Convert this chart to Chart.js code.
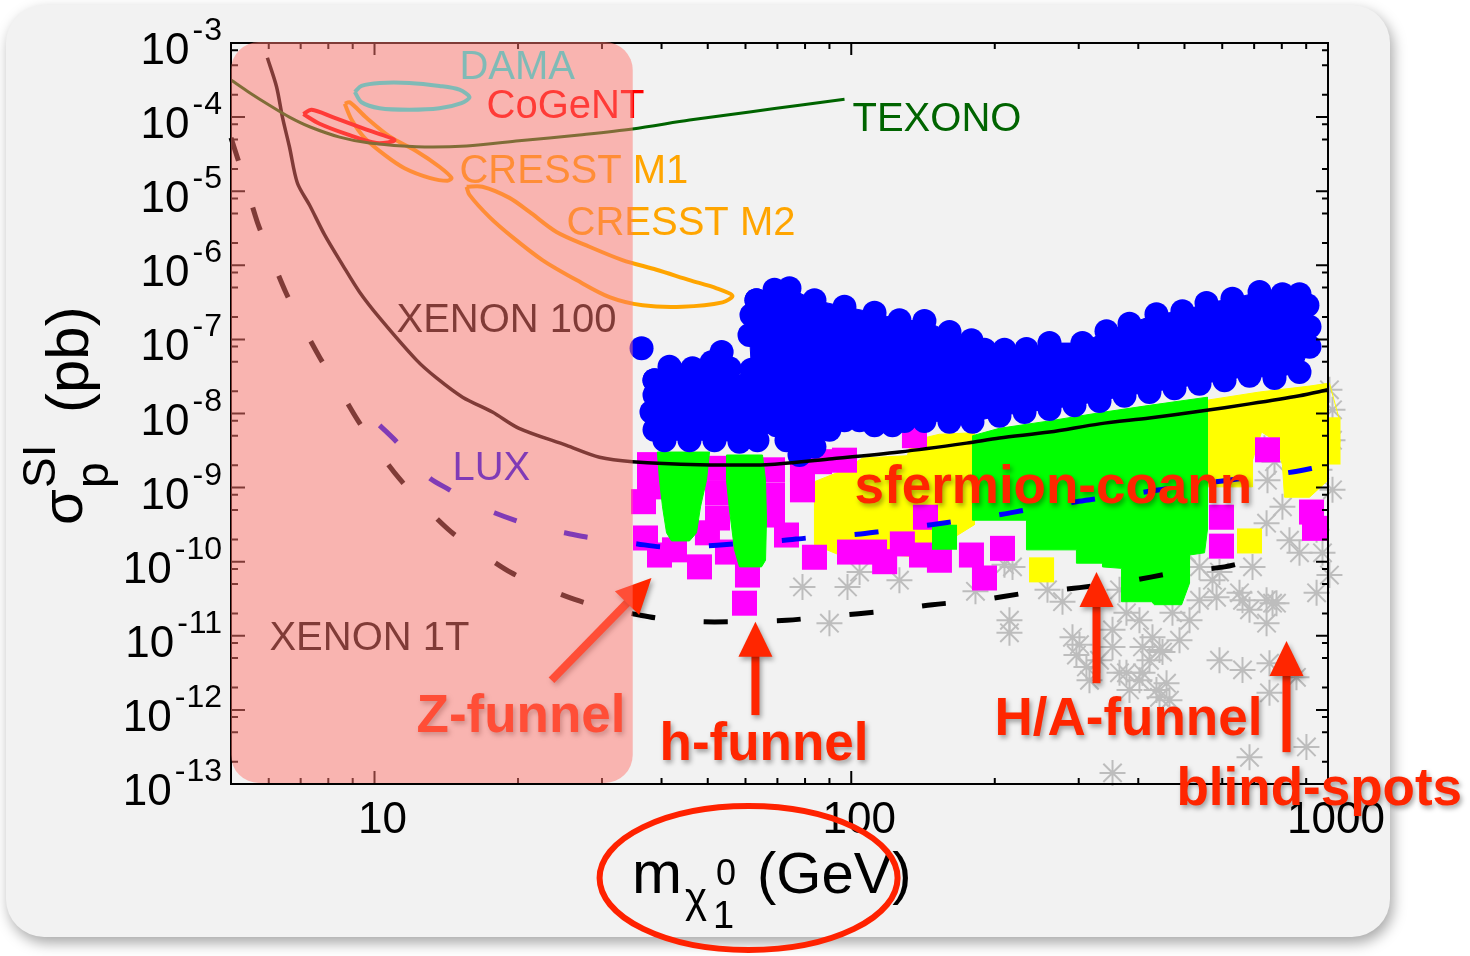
<!DOCTYPE html>
<html><head><meta charset="utf-8">
<script src="https://cdn.jsdelivr.net/npm/chart.js@4.4.1/dist/chart.umd.min.js"></script>
<style>html,body{margin:0;padding:0;background:#fff;}canvas{display:block;}</style>
</head><body>
<canvas id="c" width="1470" height="956" style="width:1470px;height:956px"></canvas>
<script>
// ---- axes ----
const massRange = [5, 1000];            // GeV
const sigmaExpRange = [-13, -3];        // log10(sigma / pb)
const yTickExps = [-3,-4,-5,-6,-7,-8,-9,-10,-11,-12,-13];
const xTickValues = [10, 100, 1000];
const xTickLabels = ['10', '100', '1000'];
const zoneMass = [5, 34.8];             // shaded low-mass zone
// ---- limit curves: [mass GeV, log10 sigma] ----
const texono = [[5.0,-3.50],[5.47,-3.67],[6.02,-3.84],[6.63,-4.00],[7.31,-4.13],[8.45,-4.27],[9.76,-4.35],[12.25,-4.40],[15.6,-4.39],[20.1,-4.32],[26.9,-4.24],[34.75,-4.16],[45.8,-4.04],[61.2,-3.93],[77.9,-3.84],[96.8,-3.76]];
const xenon100 = [[5.96,-3.20],[6.23,-3.59],[6.41,-4.00],[6.63,-4.40],[6.89,-4.89],[7.31,-5.19],[7.86,-5.59],[8.58,-6.00],[9.30,-6.36],[10.25,-6.71],[12.25,-7.28],[13.49,-7.52],[15.30,-7.78],[17.67,-7.98],[20.1,-8.20],[25.28,-8.43],[29.64,-8.59],[34.75,-8.65],[48.05,-8.69],[66.4,-8.69],[91.3,-8.61],[126.2,-8.52],[174.5,-8.40],[204.6,-8.33],[260.5,-8.25],[331.7,-8.14],[422.2,-8.06],[537.6,-7.97],[684.5,-7.87],[871.4,-7.76],[1000,-7.68]];
const xenon1t = [[5.0,-4.28],[5.34,-4.85],[5.68,-5.42],[6.08,-5.90],[6.51,-6.36],[6.96,-6.74],[7.67,-7.24],[8.45,-7.68],[9.22,-8.09],[10.25,-8.53],[11.28,-8.88],[12.73,-9.25],[14.50,-9.60],[16.61,-9.87],[19.37,-10.15],[22.72,-10.35],[26.9,-10.53],[31.11,-10.64],[35.96,-10.72],[40.18,-10.77],[48.05,-10.81],[57.45,-10.81],[73.14,-10.79],[92.2,-10.73],[116.3,-10.67],[148.0,-10.58],[185.7,-10.52],[234.3,-10.42],[301.1,-10.35],[383.4,-10.26],[476.4,-10.15],[606.6,-10.07],[684.5,-9.99]];
const lux = [[10.25,-8.16],[11.12,-8.38],[12.13,-8.65],[13.04,-8.87],[14.36,-9.03],[15.98,-9.21],[17.84,-9.34],[19.86,-9.45],[22.18,-9.55],[25.03,-9.61],[27.97,-9.67],[35.61,-9.76],[39.99,-9.80],[48.05,-9.79],[56.9,-9.76],[72.44,-9.71],[80.93,-9.68],[103.0,-9.63],[115.7,-9.59],[147.3,-9.50],[163.0,-9.46],[207.6,-9.36],[233.1,-9.30],[296.7,-9.19],[328.5,-9.15],[422.2,-9.05],[600.8,-8.91],[842.4,-8.79],[959.8,-8.72]];
const dama = [[9.09,-3.66],[9.39,-3.58],[10.25,-3.54],[11.84,-3.54],[13.68,-3.58],[15.07,-3.63],[15.82,-3.73],[15.22,-3.81],[13.68,-3.88],[11.84,-3.90],[10.25,-3.88],[9.39,-3.80],[9.09,-3.66]];
const cogent = [[7.09,-3.96],[7.38,-3.90],[8.17,-4.00],[9.62,-4.17],[11.01,-4.31],[10.1,-4.35],[8.74,-4.23],[7.67,-4.09],[7.09,-3.96]];
const cresstM1 = [[8.66,-3.82],[8.87,-3.80],[9.62,-4.01],[10.75,-4.26],[12.25,-4.46],[13.68,-4.67],[14.50,-4.82],[14.22,-4.86],[13.04,-4.82],[11.56,-4.69],[10.50,-4.51],[9.53,-4.28],[8.96,-4.04],[8.66,-3.82]];
const cresstM2 = [[15.6,-4.94],[16.84,-4.94],[19.19,-5.09],[21.14,-5.28],[24.08,-5.55],[28.24,-5.75],[33.12,-5.93],[39.04,-6.06],[45.78,-6.20],[52.17,-6.31],[56.33,-6.41],[53.69,-6.50],[44.24,-6.56],[36.5,-6.54],[31.11,-6.43],[26.53,-6.20],[22.50,-5.93],[19.47,-5.62],[17.43,-5.35],[15.82,-5.05],[15.6,-4.94]];
// ---- model points: [mass GeV, log10 sigma] ----
const blueMain = [[63.27,-6.47],[69.02,-6.33],[74.2,-6.31],[83.72,-6.47],[96.78,-6.56],[111.9,-6.64],[126.2,-6.74],[142.4,-6.75],[160.7,-6.90],[178.7,-7.01],[190.3,-7.14],[209.6,-7.14],[233.1,-7.13],[260.5,-7.05],[305.4,-7.05],[343.1,-6.89],[383.4,-6.79],[436.7,-6.66],[495.0,-6.62],[556.1,-6.51],[630.3,-6.45],[718.5,-6.36],[802.4,-6.39],[871.4,-6.39],[905.4,-6.54],[914.6,-6.83],[914.6,-7.10],[871.4,-7.44],[772.3,-7.52],[684.5,-7.49],[606.6,-7.55],[537.6,-7.60],[476.4,-7.66],[422.2,-7.71],[374.2,-7.76],[331.7,-7.83],[293.9,-7.89],[260.5,-7.94],[230.9,-7.98],[204.6,-8.03],[179.6,-8.11],[160.7,-8.11],[142.4,-8.10],[129.3,-8.10],[122.0,-8.16],[111.9,-8.16],[104.1,-8.09],[96.78,-8.09],[90.0,-8.22],[83.72,-8.45],[77.88,-8.56],[73.14,-8.36],[69.69,-8.16],[65.76,-7.98],[61.76,-7.82],[61.76,-7.41],[61.17,-6.94],[61.76,-6.67],[63.27,-6.47]];
const blueLeft = [[38.66,-7.55],[41.97,-7.41],[46.45,-7.39],[50.92,-7.31],[55.54,-7.39],[59.71,-7.62],[61.76,-7.82],[64.2,-8.16],[63.56,-8.36],[58.28,-8.38],[51.65,-8.36],[45.78,-8.36],[40.57,-8.36],[38.66,-8.22],[38.1,-7.98],[38.66,-7.75],[38.66,-7.55]];
const blueExtra = [[36.32,-7.12],[53.47,-7.17],[41.56,-7.37]];
const greenLobeZ = [[39.2,-8.52],[50.43,-8.52],[49.7,-8.90],[48.28,-9.26],[47.36,-9.61],[45.78,-9.72],[41.97,-9.72],[40.98,-9.61],[40.19,-9.26],[39.61,-8.90],[39.2,-8.52]];
const greenLobeH = [[54.74,-8.56],[65.13,-8.56],[66.1,-8.90],[66.4,-9.44],[66.1,-9.98],[64.82,-10.07],[58.28,-10.07],[56.9,-9.84],[55.54,-9.30],[54.74,-8.90],[54.74,-8.56]];
const greenCoann = [[179.6,-8.30],[204.6,-8.20],[260.5,-8.10],[331.7,-7.99],[422.2,-7.89],[558.6,-7.78],[558.6,-9.57],[550.8,-9.88],[512.3,-9.91],[512.3,-10.29],[493.1,-10.58],[432.5,-10.58],[426.3,-10.54],[368.8,-10.54],[368.8,-10.09],[336.5,-10.07],[336.5,-10.02],[296.7,-10.02],[296.7,-9.84],[233.1,-9.84],[233.1,-9.44],[179.6,-9.44],[179.6,-8.30]];
const greenSquares = [[156.9,-9.67]];
const yellowLeft = [[83.72,-8.92],[96.78,-8.76],[105.6,-8.60],[131.1,-8.57],[133.7,-8.37],[153.1,-8.28],[181.3,-8.26],[181.3,-9.50],[160.7,-9.71],[139.0,-9.94],[109.2,-9.88],[94.47,-9.91],[83.72,-9.77],[83.72,-8.92]];
const yellowRight = [[558.6,-7.82],[718.5,-7.71],[914.6,-7.63],[1007,-7.59],[1057,-8.09],[1057,-8.63],[1000,-8.65],[1000,-8.90],[914.6,-9.13],[810.6,-9.13],[802.4,-8.69],[772.3,-8.36],[725.4,-8.25],[694.5,-8.63],[694.5,-8.99],[558.6,-8.99],[558.6,-7.82]];
const yellowSquares = [[250.7,-10.11],[684.5,-9.72],[1000,-8.22],[1000,-8.52]];
const magentaSquares = [[36.66,-9.19],[37.02,-9.68],[39.61,-9.91],[42.58,-9.84],[48.05,-10.07],[49.93,-9.61],[37.74,-8.69],[37.74,-8.99],[52.41,-8.74],[52.41,-9.07],[52.41,-9.41],[55.0,-9.87],[60.58,-10.18],[59.71,-10.56],[68.36,-8.76],[68.36,-9.10],[68.36,-9.37],[73.14,-9.64],[79.01,-8.76],[79.01,-9.03],[83.72,-9.94],[96.78,-8.63],[99.15,-9.87],[111.9,-9.87],[117.5,-10.00],[128.0,-9.76],[140.4,-9.91],[153.1,-9.98],[143.1,-9.40],[178.7,-9.91],[190.3,-10.22],[207.6,-9.82],[85.77,-8.65],[135.7,-8.30],[923.5,-9.33],[936.9,-9.55],[597.8,-9.40],[597.8,-9.79],[746.6,-8.49]];
const greyStars = [[79.01,-10.34],[98.2,-10.34],[104.1,-10.14],[126.2,-10.25],[90.0,-10.83],[182.2,-10.40],[209.6,-10.04],[214.7,-10.79],[214.7,-10.96],[217.9,-10.07],[277.4,-10.54],[291.1,-11.02],[301.1,-11.12],[311.4,-11.42],[316.0,-11.60],[296.7,-11.26],[353.2,-10.92],[377.8,-10.69],[402.3,-10.79],[428.4,-11.02],[471.8,-10.69],[443.1,-11.19],[408.2,-11.50],[436.7,-11.73],[465.0,-11.87],[377.8,-11.50],[353.2,-11.15],[408.2,-11.15],[449.6,-11.22],[365.3,-11.50],[402.3,-11.60],[443.1,-11.83],[458.5,-11.64],[422.2,-11.33],[331.7,-11.33],[383.4,-11.73],[504.8,-9.88],[537.6,-10.07],[572.4,-10.25],[583.8,-10.48],[652.2,-10.42],[743.3,-10.52],[779.8,-10.56],[743.3,-10.83],[684.5,-10.65],[512.3,-10.79],[592.1,-11.33],[661.7,-11.46],[753.8,-11.37],[858.8,-11.56],[753.8,-11.77],[684.5,-12.64],[901.1,-12.50],[353.2,-12.85],[973.8,-9.88],[946.3,-10.42],[1007,-10.18],[946.3,-9.57],[1007,-7.68],[1022,-7.95],[1022,-8.36],[959.8,-8.76],[1022,-9.03],[743.3,-9.48],[802.4,-9.26],[694.5,-10.07],[592.1,-10.14],[871.4,-9.88],[661.7,-10.52],[765.0,-10.56],[735.8,-8.47],[772.3,-8.65],[746.6,-8.90],[871.4,-8.63],[830.2,-9.71],[258.0,-10.38],[365.3,-10.38],[488.1,-11.06],[537.6,-10.52]];
// ---- text annotations (anchor in data units) ----
const curveLabels = [
  {text:'DAMA', m:15.07, e:-3.49, color:'#00ffff'},
  {text:'CoGeNT', m:17.18, e:-4.01, color:'#ff0000'},
  {text:'CRESST M1', m:15.07, e:-4.89, color:'#ffa500'},
  {text:'CRESST M2', m:25.28, e:-5.59, color:'#ffa500'},
  {text:'TEXONO', m:100.6, e:-4.19, color:'#006400'},
  {text:'XENON 100', m:11.12, e:-6.90, color:'#000000'},
  {text:'LUX', m:14.57, e:-8.90, color:'#0000ff'},
  {text:'XENON 1T', m:6.02, e:-11.19, color:'#000000'}
];
const regionLabels = [
  {text:'sfermion-coann', m:101.6, e:-9.21},
  {text:'Z-funnel', m:12.25, e:-12.30},
  {text:'h-funnel', m:39.61, e:-12.68},
  {text:'H/A-funnel', m:199.7, e:-12.34},
  {text:'blind-spots', m:481.0, e:-13.28}
];
const arrows = [
  {from:[23.51,-11.60], to:[38.1,-10.22]},
  {from:[62.95,-12.07], to:[62.95,-10.81]},
  {from:[326.9,-11.64], to:[326.9,-10.14]},
  {from:[818.4,-12.57], to:[818.4,-11.07]}
];

const FF = '"Liberation Sans", Arial, Helvetica, sans-serif';
const toPts = a => a.map(([m, e]) => ({x: m, y: Math.pow(10, e)}));

function curve(label, arr, color, width, dash, order, tension) {
  return {label, data: toPts(arr), showLine: true, borderColor: color, borderWidth: width,
    borderDash: dash || [], borderCapStyle: 'butt', pointRadius: 0, tension: tension == null ? 0.3 : tension,
    fill: false, order, clip: false};
}
function region(label, arr, color, order, r) {
  return {label, data: toPts(arr), showLine: true, fill: 'shape', backgroundColor: color, borderColor: color,
    borderWidth: 1, pointRadius: r || 0, pointBackgroundColor: color, pointBorderWidth: 0, tension: 0, order, clip: false};
}
function marks(label, arr, style, r, fillC, strokeC, bw, order) {
  return {label, data: toPts(arr), showLine: false, pointStyle: style, pointRadius: r,
    pointBackgroundColor: fillC, pointBorderColor: strokeC, pointBorderWidth: bw, order, clip: false};
}

function rr(ctx, x, y, w, h, r) {
  ctx.beginPath();
  ctx.moveTo(x + r, y);
  ctx.arcTo(x + w, y, x + w, y + h, r);
  ctx.arcTo(x + w, y + h, x, y + h, r);
  ctx.arcTo(x, y + h, x, y, r);
  ctx.arcTo(x, y, x + w, y, r);
  ctx.closePath();
}

const deco = {
  id: 'deco',
  beforeDraw(chart) {
    const ctx = chart.ctx;
    ctx.save();
    ctx.fillStyle = '#ffffff';
    ctx.fillRect(0, 0, chart.width, chart.height);
    ctx.shadowColor = 'rgba(0,0,0,0.35)';
    ctx.shadowBlur = 14; ctx.shadowOffsetX = 3; ctx.shadowOffsetY = 6;
    ctx.fillStyle = '#f2f2f2';
    rr(ctx, 6, 5, 1384, 932, 38);
    ctx.fill();
    ctx.restore();
  },
  afterDatasetsDraw(chart) {
    const ctx = chart.ctx, xs = chart.scales.x, ys = chart.scales.y;
    const {left, right, top, bottom} = chart.chartArea;
    const P = (m, e) => [xs.getPixelForValue(m), ys.getPixelForValue(Math.pow(10, e))];
    ctx.save();
    // frame + ticks
    ctx.strokeStyle = '#000'; ctx.lineWidth = 2;
    ctx.strokeRect(left, top, right - left, bottom - top);
    ctx.beginPath();
    for (let e = sigmaExpRange[0]; e <= sigmaExpRange[1]; e++) {
      const y = ys.getPixelForValue(Math.pow(10, e));
      ctx.moveTo(left, y); ctx.lineTo(left + 14, y);
      ctx.moveTo(right, y); ctx.lineTo(right - 12, y);
      if (e < sigmaExpRange[1]) {
        [2, 5, 8].forEach(k => {
          const yy = ys.getPixelForValue(k * Math.pow(10, e));
          ctx.moveTo(left, yy); ctx.lineTo(left + 7, yy);
          ctx.moveTo(right, yy); ctx.lineTo(right - 6, yy);
        });
      }
    }
    [1, 10, 100].forEach(d => {
      for (let k = 1; k <= 9; k++) {
        const v = k * d;
        if (v < massRange[0] || v > massRange[1]) continue;
        const x = xs.getPixelForValue(v);
        const major = (k === 1);
        ctx.moveTo(x, bottom); ctx.lineTo(x, bottom - (major ? 13 : 6));
        ctx.moveTo(x, top); ctx.lineTo(x, top + (major ? 12 : 6));
      }
    });
    ctx.stroke();
    // tick labels
    ctx.fillStyle = '#000'; ctx.textBaseline = 'alphabetic';
    ctx.textAlign = 'right';
    yTickExps.forEach(e => {
      const y = ys.getPixelForValue(Math.pow(10, e));
      const digits = String(Math.abs(e));
      ctx.font = '32px ' + FF;
      const xr = left - 9;
      ctx.fillText(digits, xr, y - 3);
      const dw = ctx.measureText(digits).width;
      ctx.fillText('-', xr - dw - 1, y - 3);
      const hw = ctx.measureText('-').width;
      ctx.font = '44px ' + FF;
      ctx.fillText('10', xr - dw - 1 - hw - 3, y + 21);
    });
    ctx.textAlign = 'center'; ctx.font = '44px ' + FF;
    xTickValues.forEach((v, i) => ctx.fillText(xTickLabels[i], xs.getPixelForValue(v) + 8, bottom + 49));
    // y title (rotated)
    ctx.save();
    ctx.translate(left - 149, top + 482);
    ctx.rotate(-Math.PI / 2);
    ctx.textAlign = 'left';
    ctx.font = '58px ' + FF; ctx.fillText('\u03c3', 0, 0);
    ctx.font = '46px ' + FF; ctx.fillText('p', 37, 26); ctx.fillText('SI', 37, -27);
    ctx.font = '60px ' + FF; ctx.fillText('(pb)', 112, 6);
    ctx.restore();
    // x title
    ctx.textAlign = 'left';
    const tx = left + 401, tb = bottom + 109;
    ctx.font = '60px ' + FF; ctx.fillText('m', tx, tb);
    ctx.font = '42px ' + FF; ctx.fillText('\u03c7', tx + 53, tb + 19);
    ctx.font = '36px ' + FF; ctx.fillText('0', tx + 84, tb - 8);
    ctx.font = '38px ' + FF; ctx.fillText('1', tx + 81, tb + 35);
    ctx.font = '58px ' + FF; ctx.fillText('(GeV)', tx + 125, tb);
    // curve labels
    ctx.font = '40px ' + FF;
    curveLabels.forEach(l => { const [x, y] = P(l.m, l.e); ctx.fillStyle = l.color; ctx.fillText(l.text, x, y); });
    // region labels + arrows
    ctx.save();
    ctx.shadowColor = 'rgba(0,0,0,0.35)'; ctx.shadowBlur = 5; ctx.shadowOffsetX = 2; ctx.shadowOffsetY = 3;
    ctx.fillStyle = '#ff2600'; ctx.strokeStyle = '#ff2600';
    ctx.font = 'bold 53px ' + FF;
    regionLabels.forEach(l => { const [x, y] = P(l.m, l.e); ctx.fillText(l.text, x, y); });
    arrows.forEach(a => {
      const [x0, y0] = P(a.from[0], a.from[1]);
      const [x1, y1] = P(a.to[0], a.to[1]);
      const dx = x1 - x0, dy = y1 - y0, L = Math.hypot(dx, dy), ux = dx / L, uy = dy / L;
      const hl = 35, hw = 17;
      const bx = x1 - ux * hl, by = y1 - uy * hl;
      ctx.lineWidth = 8; ctx.lineCap = 'butt';
      ctx.beginPath(); ctx.moveTo(x0, y0); ctx.lineTo(bx + ux * 2, by + uy * 2); ctx.stroke();
      ctx.beginPath(); ctx.moveTo(x1, y1);
      ctx.lineTo(bx - uy * hw, by + ux * hw); ctx.lineTo(bx + uy * hw, by - ux * hw); ctx.closePath(); ctx.fill();
    });
    ctx.restore();
    // ellipse around x title
    ctx.strokeStyle = '#ff2200'; ctx.lineWidth = 6;
    ctx.beginPath();
    ctx.ellipse(xs.getPixelForValue(60.9), bottom + 94, 149, 72, 0, 0, Math.PI * 2);
    ctx.stroke();
    // shaded low-mass zone (on top, translucent)
    const zx0 = xs.getPixelForValue(zoneMass[0]), zx1 = xs.getPixelForValue(zoneMass[1]);
    const zy0 = ys.getPixelForValue(Math.pow(10, sigmaExpRange[1])) - 1, zy1 = ys.getPixelForValue(Math.pow(10, sigmaExpRange[0])) - 1;
    ctx.fillStyle = 'rgba(255,118,110,0.5)';
    rr(ctx, zx0, zy0, zx1 - zx0, zy1 - zy0, 28);
    ctx.fill();
    ctx.restore();
  }
};

new Chart(document.getElementById('c'), {
  type: 'scatter',
  data: { datasets: [
    curve('TEXONO', texono, '#006400', 3, null, 1),
    curve('DAMA', dama, '#00ffff', 4, null, 1),
    curve('CoGeNT', cogent, '#ff0000', 4, null, 1),
    curve('CRESST M1', cresstM1, '#ffa500', 4, null, 1),
    curve('CRESST M2', cresstM2, '#ffa500', 4, null, 1),
    curve('XENON 100', xenon100, '#000000', 3.5, null, 2),
    curve('XENON 1T', xenon1t, '#000000', 5, [24, 49], 3),
    curve('LUX', lux, '#0000ff', 5, [24, 49], 3),
    region('blue main', blueMain, '#0000ff', 5, 12),
    region('blue left', blueLeft, '#0000ff', 5, 12),
    marks('blue extra', blueExtra, 'circle', 12, '#0000ff', '#0000ff', 0, 5),
    region('green Z', greenLobeZ, '#00ff00', 6),
    region('green h', greenLobeH, '#00ff00', 6),
    region('green coann', greenCoann, '#00ff00', 6),
    marks('green sq', greenSquares, 'rect', 17.7, '#00ff00', '#00ff00', 0, 6),
    marks('magenta', magentaSquares, 'rect', 17.7, '#ff00ff', '#ff00ff', 0, 7),
    region('yellow left', yellowLeft, '#ffff00', 8),
    region('yellow right', yellowRight, '#ffff00', 8),
    marks('yellow sq', yellowSquares, 'rect', 17.7, '#ffff00', '#ffff00', 0, 8),
    marks('excluded', greyStars, 'star', 13, 'rgba(0,0,0,0)', '#bdbdbd', 2, 9)
  ]},
  options: {
    responsive: false, devicePixelRatio: 1, animation: false, events: [],
    layout: { padding: { left: 231, right: 142, top: 43, bottom: 172 } },
    plugins: { legend: { display: false }, tooltip: { enabled: false } },
    scales: {
      x: { type: 'logarithmic', min: massRange[0], max: massRange[1], display: false },
      y: { type: 'logarithmic', min: Math.pow(10, sigmaExpRange[0]), max: Math.pow(10, sigmaExpRange[1]), display: false }
    }
  },
  plugins: [deco]
});
</script>
</body></html>
